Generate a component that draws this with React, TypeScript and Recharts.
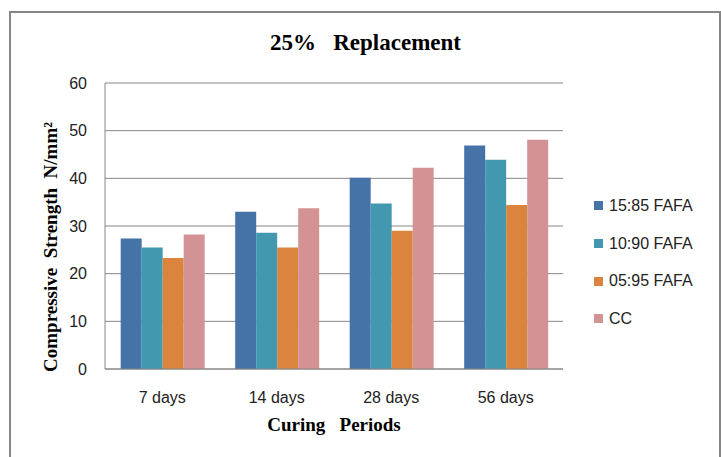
import { BarChart, Bar, XAxis, YAxis, CartesianGrid } from 'recharts'

const PERIODS = ['7 days', '14 days', '28 days', '56 days']
const FAFA_15_85 = [27.4, 33.0, 40.1, 46.9]
const FAFA_10_90 = [25.5, 28.6, 34.7, 43.9]
const FAFA_05_95 = [23.3, 25.5, 29.0, 34.4]
const CC = [28.2, 33.7, 42.2, 48.1]
const Y_TICKS = [0, 10, 20, 30, 40, 50, 60]

const SERIES = [
  { key: 'fafa1585', name: '15:85 FAFA', color: '#4572A7' },
  { key: 'fafa1090', name: '10:90 FAFA', color: '#4198AF' },
  { key: 'fafa0595', name: '05:95 FAFA', color: '#DB843D' },
  { key: 'cc', name: 'CC', color: '#D39294' },
]

const data = PERIODS.map((p, i) => ({
  period: p,
  fafa1585: FAFA_15_85[i],
  fafa1090: FAFA_10_90[i],
  fafa0595: FAFA_05_95[i],
  cc: CC[i],
}))

const tickFont = "'Liberation Sans', sans-serif"
const serif = "'Liberation Serif', serif"

function YLabel() {
  return (
    <text
      x={50}
      y={247}
      transform="rotate(-90 50 247)"
      textAnchor="middle"
      dominantBaseline="central"
      style={{ fontFamily: serif, fontWeight: 'bold', fontSize: 19, fill: '#000', whiteSpace: 'pre' }}
    >
      {'Compressive  Strength  N/mm²'}
    </text>
  )
}

export default function App() {
  return (
    <div style={{ position: 'absolute', left: 0, top: 0, width: 721, height: 457, background: '#fff', overflow: 'hidden' }}>
      <div
        style={{
          position: 'absolute',
          left: 9,
          top: 11,
          width: 708,
          height: 460,
          border: '2px solid #868686',
        }}
      />
      <div
        style={{
          position: 'absolute',
          left: 0,
          width: 731,
          top: 30,
          textAlign: 'center',
          fontFamily: serif,
          fontWeight: 'bold',
          fontSize: 23,
          whiteSpace: 'pre',
        }}
      >
        {'25%   Replacement'}
      </div>
      <div
        style={{
          position: 'absolute',
          left: 105,
          width: 458,
          top: 414,
          textAlign: 'center',
          fontFamily: serif,
          fontWeight: 'bold',
          fontSize: 19,
          whiteSpace: 'pre',
        }}
      >
        {'Curing   Periods'}
      </div>
      <div
        style={{
          position: 'absolute',
          left: 594,
          top: 187,
          fontFamily: tickFont,
          fontSize: 16,
          color: '#222',
        }}
      >
        {SERIES.map((s) => (
          <div key={s.key} style={{ display: 'flex', alignItems: 'center', height: 37.7 }}>
            <span style={{ width: 9, height: 9, background: s.color, marginRight: 6 }} />
            {s.name}
          </div>
        ))}
      </div>
      <div style={{ position: 'absolute', left: 0, top: 0 }}>
        <BarChart
          width={721}
          height={457}
          data={data}
          margin={{ top: 83, right: 158, bottom: 58, left: 45 }}
          barCategoryGap="13.7%"
          barGap={0}
        >
          <CartesianGrid vertical={false} stroke="#868686" />
          <XAxis
            dataKey="period"
            height={30}
            axisLine={{ stroke: '#868686' }}
            tickLine={false}
            tickMargin={17}
            tick={{ fontFamily: tickFont, fontSize: 16, fill: '#222' }}
          />
          <YAxis
            width={60}
            domain={[0, 60]}
            ticks={Y_TICKS}
            axisLine={{ stroke: '#868686' }}
            tickLine={false}
            tickMargin={12}
            tick={{ fontFamily: tickFont, fontSize: 16, fill: '#222' }}
          />
          {SERIES.map((s) => (
            <Bar key={s.key} dataKey={s.key} name={s.name} fill={s.color} isAnimationActive={false} />
          ))}
          <YLabel />
        </BarChart>
      </div>
    </div>
  )
}
